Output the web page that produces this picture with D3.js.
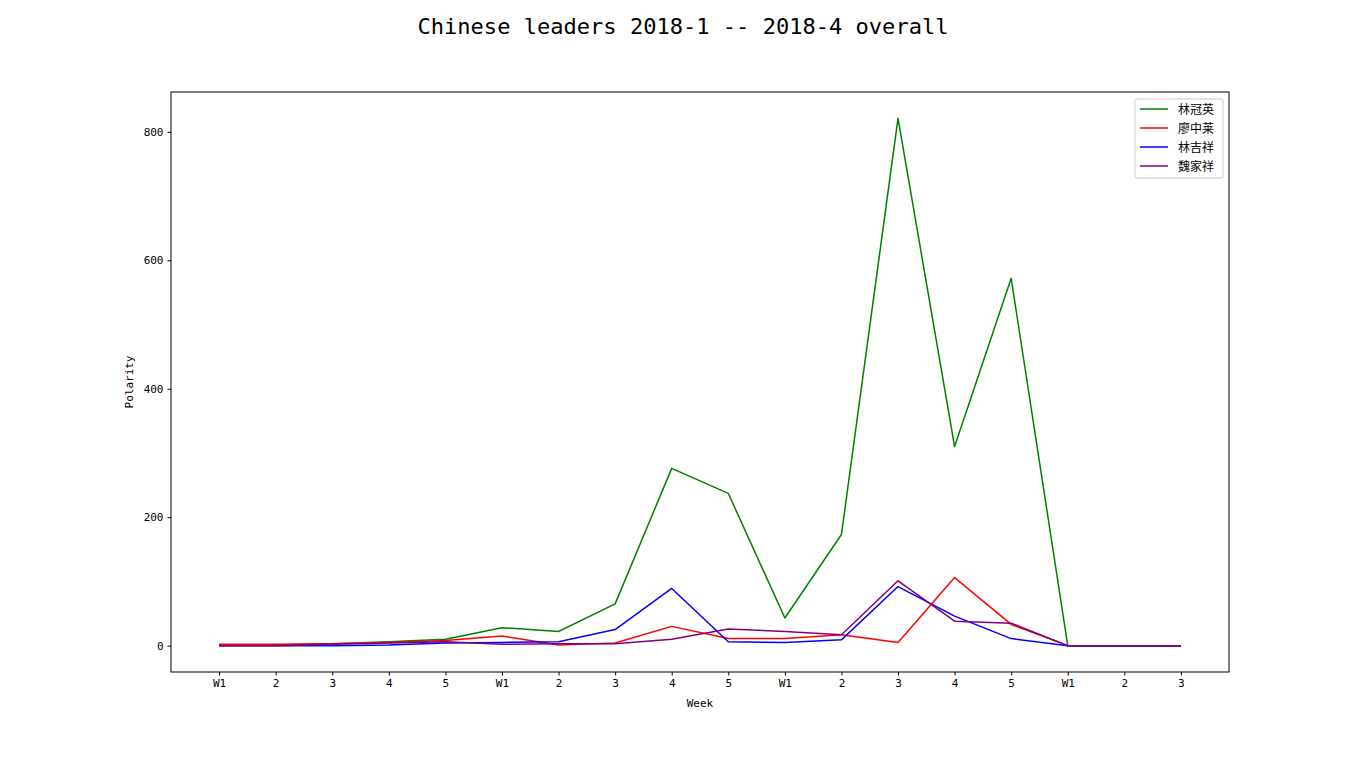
<!DOCTYPE html>
<html>
<head>
<meta charset="utf-8">
<script src="https://cdn.jsdelivr.net/npm/d3@7"></script>
<style>
  body { margin: 0; background: #fff; }
  text { font-family: "DejaVu Sans Mono", "Noto Sans CJK SC", monospace; }
</style>
</head>
<body>
<svg id="chart" width="1366" height="768"></svg>
<script>
// week labels along the x axis
const weeks = ["W1","2","3","4","5","W1","2","3","4","5","W1","2","3","4","5","W1","2","3"];

const names = ["林冠英", "廖中莱", "林吉祥", "魏家祥"];
const colors = ["green", "red", "blue", "purple"];

const linGuanYing = [1, 1, 3, 6, 10, 28, 22, 65, 276, 237, 43, 173, 821, 310, 572, 0, 0, 0];
const liaoZhongLai = [2, 2, 3, 5, 8, 15, 1, 4, 30, 11, 11, 17, 5, 106, 33, 0, 0, 0];
const linJiXiang = [0, 0, 0, 1, 4, 5, 6, 25, 89, 6, 5, 9, 92, 46, 11, 0, 0, 0];
const weiJiaXiang = [0, 0, 2, 4, 6, 2, 3, 3, 10, 26, 22, 17, 101, 38, 35, 0, 0, 0];

const yTicks = [0, 200, 400, 600, 800];

const series = [linGuanYing, liaoZhongLai, linJiXiang, weiJiaXiang];

const svg = d3.select("#chart");
const mLeft = 171, mRight = 1229, mTop = 92, mBottom = 672;

// matplotlib style 5% margins
const n = weeks.length;
const xpad = (n - 1) * 0.05;
const x = d3.scaleLinear().domain([-xpad, n - 1 + xpad]).range([mLeft, mRight]);

const ymax = d3.max(series, s => d3.max(s));
const ypad = ymax * 0.05;
const y = d3.scaleLinear().domain([-ypad, ymax + ypad]).range([mBottom, mTop]);

svg.append("text")
  .attr("x", 683)
  .attr("y", 34)
  .attr("text-anchor", "middle")
  .attr("font-size", "22px")
  .attr("textLength", 531)
  .attr("lengthAdjust", "spacingAndGlyphs")
  .text("Chinese leaders 2018-1 -- 2018-4 overall");

const xAxis = d3.axisBottom(x)
  .tickValues(d3.range(n))
  .tickFormat(i => weeks[i])
  .tickSize(3.5)
  .tickPadding(4);

const gx = svg.append("g")
  .attr("transform", `translate(0,${mBottom})`)
  .call(xAxis);
gx.select(".domain").remove();
gx.selectAll("text").attr("font-size", "11px").attr("fill", "#000")
  .attr("font-family", "DejaVu Sans Mono");

const yAxis = d3.axisLeft(y)
  .tickValues(yTicks)
  .tickSize(3.5)
  .tickPadding(4);

const gy = svg.append("g")
  .attr("transform", `translate(${mLeft},0)`)
  .call(yAxis);
gy.select(".domain").remove();
gy.selectAll("text").attr("font-size", "11px").attr("fill", "#000")
  .attr("font-family", "DejaVu Sans Mono");

// frame
svg.append("rect")
  .attr("x", mLeft)
  .attr("y", mTop)
  .attr("width", mRight - mLeft)
  .attr("height", mBottom - mTop)
  .attr("fill", "none")
  .attr("stroke", "#000")
  .attr("stroke-width", 1);

svg.append("text")
  .attr("x", (mLeft + mRight) / 2)
  .attr("y", 707)
  .attr("text-anchor", "middle")
  .attr("font-size", "11px")
  .text("Week");

svg.append("text")
  .attr("transform", "translate(133,382) rotate(-90)")
  .attr("text-anchor", "middle")
  .attr("font-size", "11px")
  .text("Polarity");

const line = d3.line()
  .x((d, i) => x(i))
  .y(d => y(d));

series.forEach((s, k) => {
  svg.append("path")
    .datum(s)
    .attr("d", line)
    .attr("fill", "none")
    .attr("stroke", colors[k])
    .attr("stroke-width", 1.5)
    .attr("stroke-linejoin", "round");
});

// legend
const lg = svg.append("g").attr("transform", "translate(1135,99)");
lg.append("rect")
  .attr("width", 88)
  .attr("height", 79)
  .attr("rx", 2)
  .attr("fill", "#fff")
  .attr("fill-opacity", 0.8)
  .attr("stroke", "#ccc");

names.forEach((nm, k) => {
  const yy = 10 + k * 19;
  lg.append("line")
    .attr("x1", 5).attr("x2", 33)
    .attr("y1", yy).attr("y2", yy)
    .attr("stroke", colors[k])
    .attr("stroke-width", 1.5);
  lg.append("text")
    .attr("x", 43)
    .attr("y", yy + 4.5)
    .attr("font-size", "12px")
    .attr("font-family", "Noto Sans CJK SC")
    .text(nm);
});
</script>
</body>
</html>
